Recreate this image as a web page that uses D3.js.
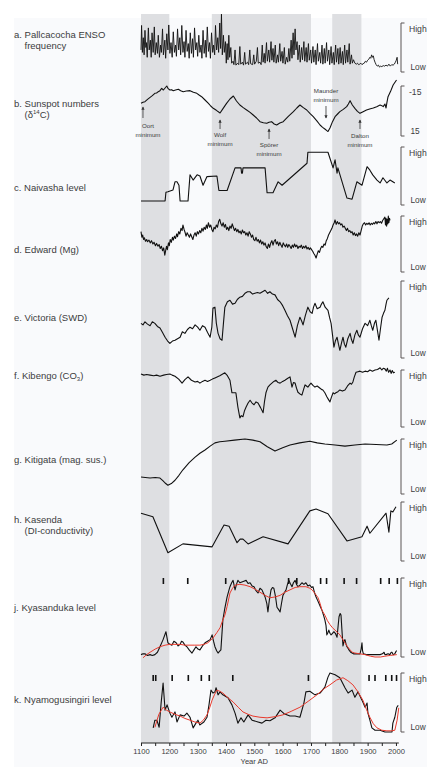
<!DOCTYPE html>
<html>
<head>
<meta charset="utf-8">
<script src="https://cdn.jsdelivr.net/npm/d3@7"></script>
<style>
  body { margin: 0; background: #fff; }
  svg { display: block; }
  text { font-family: "Liberation Sans", Arial, Helvetica, sans-serif; }
</style>
</head>
<body>
<svg id="chart" width="427" height="767"></svg>
<script>
// ---------- data (year AD, relative value 0 = Low, 100 = High) ----------
const axisTicks = [1100, 1200, 1300, 1400, 1500, 1600, 1700, 1800, 1900, 2000];
const solarMinimaBands = [[1100, 1200], [1350, 1700], [1775, 1878]];

const enso = [
  [1100,45],[1102,95],[1105,40],[1108,70],[1111,35],[1114,85],[1117,50],[1119,60],[1122,30],[1126,90],
  [1129,45],[1133,65],[1136,30],[1139,80],[1143,40],[1147,92],[1150,35],[1154,60],[1158,38],[1161,75],
  [1165,30],[1169,55],[1172,40],[1176,88],[1179,35],[1184,65],[1187,28],[1191,78],[1195,45],[1198,96],
  [1202,38],[1206,60],[1210,30],[1214,82],[1218,40],[1222,55],[1225,32],[1229,88],[1233,45],[1237,70],
  [1240,35],[1244,95],[1248,40],[1252,62],[1255,30],[1259,85],[1263,42],[1267,58],[1270,28],[1274,80],
  [1278,38],[1282,68],[1285,30],[1289,90],[1293,45],[1297,60],[1300,32],[1304,75],[1308,40],[1312,55],
  [1315,28],[1319,85],[1323,38],[1327,65],[1330,30],[1334,92],[1338,42],[1342,60],[1345,28],[1349,80],
  [1353,40],[1356,55],[1360,35],[1363,95],[1367,45],[1371,70],[1374,40],[1378,100],[1381,48],[1384,118],
  [1387,35],[1391,75],[1394,40],[1398,62],[1401,18],[1404,58],[1407,25],[1410,75],[1413,30],[1417,50],
  [1420,18],[1425,22],[1428,15],[1432,45],[1435,14],[1441,18],[1445,15],[1449,52],[1452,16],[1458,20],
  [1462,14],[1466,40],[1469,16],[1476,20],[1480,15],[1484,45],[1487,17],[1494,15],[1498,35],[1501,16],
  [1507,22],[1511,50],[1514,18],[1520,20],[1524,15],[1528,55],[1531,20],[1535,38],[1538,18],[1543,60],
  [1546,22],[1551,45],[1554,20],[1559,62],[1562,24],[1566,48],[1569,20],[1574,55],[1577,18],[1582,35],
  [1585,20],[1590,58],[1593,22],[1598,42],[1601,18],[1606,50],[1609,16],[1614,30],[1618,20],[1622,48],
  [1625,22],[1630,65],[1633,28],[1637,80],[1640,35],[1644,88],[1647,45],[1651,62],[1654,25],[1659,55],
  [1662,20],[1667,50],[1670,25],[1675,62],[1678,22],[1683,50],[1686,20],[1691,58],[1694,24],[1699,45],
  [1702,18],[1707,52],[1710,20],[1715,45],[1718,15],[1723,58],[1726,22],[1731,40],[1734,18],[1739,55],
  [1742,16],[1747,48],[1750,18],[1755,60],[1758,22],[1763,45],[1766,15],[1771,52],[1774,18],[1779,40],
  [1782,15],[1787,55],[1790,20],[1795,48],[1798,16],[1803,50],[1806,18],[1811,42],[1814,15],[1819,55],
  [1822,18],[1827,45],[1830,20],[1835,58],[1838,16],[1843,35],[1846,18],[1850,25],[1855,18],[1860,16],
  [1864,18],[1868,15],[1872,16],[1876,18],[1880,15],[1884,17],[1888,18],[1892,22],[1896,20],[1900,24],
  [1904,26],[1908,30],[1911,28],[1914,35],[1917,30],[1920,33],[1923,25],[1926,20],[1930,15],[1934,12],
  [1938,14],[1942,10],[1946,12],[1950,11],[1955,13],[1960,12],[1965,14],[1970,12],[1975,16],[1980,12],
  [1985,15],[1990,14],[1994,16],[1998,20],[2001,24],[2004,30],[2006,16]
];

// δ14C (per mil), plotted inverted: -15 at top
const delta14C = [
  [1100,-4.6],[1107,-5.2],[1114,-5.6],[1123,-7.0],[1132,-8.2],[1140,-9.2],[1149,-10.6],[1155,-10.8],
  [1161,-11.6],[1167,-12.2],[1173,-13.6],[1179,-12.6],[1185,-13.8],[1191,-15.0],[1196,-13.4],[1202,-12.6],
  [1208,-12.8],[1214,-12.2],[1222,-12.6],[1232,-13.0],[1240,-12.2],[1249,-11.6],[1260,-12.0],[1273,-12.2],
  [1285,-11.2],[1297,-10.6],[1305,-9.6],[1314,-8.6],[1326,-6.6],[1338,-4.6],[1346,-3.0],[1355,-1.6],
  [1366,-0.4],[1379,1.2],[1390,-1.6],[1402,-4.6],[1414,-7.2],[1426,-9.0],[1437,-6.0],[1449,-3.6],
  [1461,-2.0],[1473,-0.6],[1485,0.8],[1496,2.4],[1508,4.2],[1520,6.4],[1532,7.0],[1544,7.4],[1552,6.8],
  [1561,6.4],[1570,7.8],[1579,8.4],[1590,7.2],[1602,6.4],[1620,3.2],[1638,0.4],[1650,-1.8],[1661,-3.6],
  [1673,-2.0],[1685,-0.6],[1697,1.6],[1708,3.4],[1720,5.8],[1732,8.4],[1741,9.8],[1749,10.8],[1756,11.8],
  [1760,12.3],[1767,10.2],[1776,6.4],[1785,3.4],[1794,1.8],[1802,0.4],[1814,-1.0],[1826,-2.6],[1832,-4.2],
  [1838,-6.2],[1846,-3.6],[1855,-1.6],[1864,0.2],[1873,1.4],[1884,0.4],[1896,-0.6],[1910,-1.4],[1920,-1.8],
  [1932,-2.6],[1944,-3.6],[1950,-3.2],[1955,-2.6],[1961,-4.2],[1965,-1.8],[1968,-5.0],[1972,-8.6],
  [1981,-11.8],[1990,-15.6],[2002,-18.6]
];
const solarMinima = [
  { name: "Oort", year: 1107 },
  { name: "Wolf", year: 1379 },
  { name: "Spörer", year: 1552 },
  { name: "Maunder", year: 1753 },
  { name: "Dalton", year: 1873 }
];

const naivasha = [
  [1100,7],[1185,7],[1188,22],[1195,23],[1213,26],[1220,40],[1227,40],[1234,34],[1238,7],[1266,7],
  [1273,52],[1284,43],[1298,52],[1308,50],[1319,34],[1333,49],[1368,50],[1375,25],[1404,25],[1432,64],
  [1453,64],[1455,55],[1458,55],[1460,64],[1538,64],[1545,21],[1566,21],[1584,40],[1598,34],[1686,72],
  [1689,91],[1760,91],[1778,64],[1785,78],[1792,55],[1795,64],[1827,12],[1845,10],[1862,40],[1880,34],
  [1898,66],[1908,60],[1918,52],[1933,43],[1944,38],[1954,47],[1968,38],[1979,43],[1996,38]
];

const edward = [
  [1100,72],[1103,62],[1106,66],[1109,58],[1112,61],[1116,55],[1120,58],[1123,54],[1128,57],[1133,52],
  [1137,56],[1142,50],[1146,53],[1151,47],[1155,51],[1160,46],[1164,49],[1168,42],[1172,46],[1176,38],
  [1180,43],[1184,30],[1187,38],[1190,46],[1193,40],[1197,52],[1200,47],[1203,58],[1207,53],[1211,62],
  [1214,57],[1218,64],[1222,60],[1226,68],[1229,63],[1233,72],[1237,68],[1241,78],[1245,74],[1248,84],
  [1252,76],[1256,70],[1259,64],[1263,70],[1267,66],[1271,62],[1275,68],[1279,63],[1283,58],[1287,66],
  [1291,70],[1295,64],[1299,72],[1303,68],[1307,74],[1311,70],[1315,78],[1319,73],[1323,80],[1327,76],
  [1331,84],[1334,78],[1338,88],[1342,80],[1346,84],[1350,76],[1354,72],[1358,80],[1362,77],[1366,84],
  [1370,80],[1374,90],[1378,94],[1382,86],[1386,82],[1390,88],[1394,80],[1398,85],[1402,76],[1406,80],
  [1410,74],[1414,82],[1418,78],[1422,86],[1426,80],[1430,74],[1434,78],[1438,72],[1442,76],[1446,70],
  [1450,73],[1454,68],[1458,75],[1462,70],[1466,72],[1470,66],[1474,70],[1478,64],[1482,72],[1486,68],
  [1490,62],[1494,66],[1498,58],[1502,56],[1506,62],[1510,55],[1514,58],[1518,52],[1522,57],[1526,50],
  [1530,54],[1534,48],[1538,52],[1542,45],[1546,42],[1550,50],[1554,44],[1558,52],[1562,56],[1566,48],
  [1570,55],[1574,58],[1578,50],[1582,54],[1586,47],[1590,53],[1594,48],[1598,44],[1602,52],[1606,48],
  [1610,45],[1614,50],[1618,44],[1622,49],[1626,46],[1630,42],[1634,48],[1638,44],[1642,50],[1646,45],
  [1650,48],[1654,42],[1658,46],[1662,44],[1666,48],[1670,42],[1674,46],[1678,43],[1682,47],[1686,41],
  [1690,44],[1694,40],[1698,43],[1702,40],[1706,37],[1710,33],[1714,30],[1718,25],[1722,32],[1726,38],
  [1730,35],[1734,42],[1738,46],[1742,44],[1746,50],[1750,48],[1754,56],[1758,60],[1762,66],[1766,70],
  [1770,74],[1774,78],[1778,84],[1782,88],[1785,93],[1789,85],[1793,90],[1797,86],[1801,88],[1805,84],
  [1809,86],[1813,80],[1817,82],[1821,78],[1825,74],[1829,78],[1833,72],[1837,74],[1841,70],[1845,72],
  [1849,66],[1853,70],[1857,65],[1861,68],[1865,64],[1869,70],[1873,66],[1877,74],[1881,82],[1885,86],
  [1889,88],[1893,84],[1897,87],[1901,85],[1905,88],[1909,84],[1913,87],[1917,85],[1921,88],[1925,86],
  [1929,90],[1933,86],[1937,90],[1941,88],[1945,90],[1949,87],[1953,92],[1957,95],[1961,98],[1963,84],
  [1965,96],[1967,82],[1969,94],[1971,86],[1973,100],[1975,88],[1977,96],[1979,92]
];

const victoria = [
  [1100,45],[1107,43],[1114,47],[1123,44],[1132,42],[1140,47],[1149,45],[1158,41],[1167,39],[1176,33],
  [1185,27],[1194,22],[1202,19],[1211,22],[1220,23],[1229,25],[1238,27],[1246,34],[1255,32],[1264,37],
  [1273,40],[1282,38],[1291,43],[1300,40],[1308,36],[1317,42],[1326,40],[1335,33],[1344,27],[1350,40],
  [1354,65],[1361,66],[1366,45],[1372,32],[1379,25],[1386,23],[1391,45],[1396,66],[1405,73],[1414,75],
  [1423,70],[1432,71],[1440,76],[1449,79],[1458,80],[1467,84],[1476,86],[1485,86],[1494,83],[1502,84],
  [1511,85],[1520,84],[1529,86],[1538,88],[1547,84],[1555,86],[1564,83],[1573,82],[1582,76],[1591,73],
  [1600,68],[1608,62],[1617,55],[1626,49],[1635,38],[1644,27],[1652,42],[1661,53],[1667,48],[1672,43],
  [1680,55],[1689,66],[1697,60],[1704,58],[1709,66],[1714,71],[1722,64],[1732,66],[1737,70],[1742,73],
  [1750,66],[1760,62],[1766,52],[1771,45],[1776,30],[1781,14],[1786,22],[1792,27],[1797,18],[1802,10],
  [1808,20],[1813,27],[1818,18],[1823,14],[1830,25],[1838,32],[1843,24],[1848,19],[1855,30],[1862,36],
  [1867,30],[1873,27],[1882,38],[1891,45],[1900,42],[1908,49],[1913,42],[1918,36],[1924,45],[1929,49],
  [1935,35],[1940,23],[1946,40],[1951,53],[1956,58],[1961,62],[1965,70],[1968,75],[1975,78]
];

const kibengo = [
  [1100,93],[1110,91],[1120,92],[1132,91],[1145,90],[1155,91],[1167,89],[1180,91],[1190,92],[1202,93],
  [1210,91],[1220,89],[1233,84],[1245,77],[1255,83],[1266,88],[1278,82],[1291,79],[1300,80],[1308,77],
  [1317,80],[1326,82],[1335,80],[1344,82],[1352,84],[1361,86],[1378,90],[1396,95],[1405,90],[1414,82],
  [1421,60],[1435,60],[1442,35],[1449,16],[1454,20],[1460,18],[1465,28],[1471,35],[1478,42],[1485,47],
  [1492,42],[1499,39],[1506,44],[1513,42],[1522,34],[1531,25],[1536,45],[1541,60],[1548,70],[1555,74],
  [1562,77],[1569,80],[1576,82],[1584,78],[1591,77],[1600,80],[1608,82],[1617,85],[1626,88],[1633,70],
  [1638,78],[1644,77],[1649,68],[1654,61],[1661,58],[1668,56],[1674,66],[1679,74],[1684,72],[1689,70],
  [1695,74],[1700,77],[1707,73],[1714,70],[1722,72],[1732,68],[1737,66],[1742,65],[1749,60],[1756,53],
  [1762,48],[1767,44],[1772,52],[1778,60],[1783,58],[1788,60],[1795,62],[1802,65],[1811,63],[1820,65],
  [1829,72],[1838,77],[1843,75],[1848,79],[1853,88],[1859,96],[1866,97],[1873,98],[1882,96],[1891,98],
  [1900,97],[1908,100],[1917,98],[1926,100],[1935,101],[1944,104],[1950,100],[1955,103],[1961,102],
  [1966,98],[1970,103],[1974,96],[1979,100],[1983,94],[1987,99],[1991,95],[1996,96]
];

const kitigata = [
  [1100,31],[1115,30],[1132,29],[1150,30],[1167,29],[1178,24],[1185,20],[1195,16],[1207,19],[1220,25],
  [1234,34],[1248,44],[1270,57],[1291,67],[1308,74],[1326,80],[1344,87],[1361,93],[1378,95],[1396,96],
  [1430,98],[1467,100],[1495,98],[1520,95],[1546,86],[1573,78],[1600,84],[1626,89],[1660,93],[1696,96],
  [1722,93],[1749,91],[1785,89],[1820,87],[1855,89],[1891,91],[1930,90],[1968,89],[1985,91],[2003,98]
];

const kasenda = [
  [1100,81],[1142,75],[1195,14],[1248,29],[1351,24],[1393,61],[1411,59],[1439,31],[1450,37],[1460,37],
  [1478,29],[1531,41],[1619,29],[1696,85],[1718,88],[1760,80],[1827,34],[1880,41],[1898,59],[1908,47],
  [1965,81],[1975,49],[1982,85],[1989,83],[2000,92]
];

const kyasanduka = [
  [1100,3],[1107,4],[1114,4],[1123,2],[1132,3],[1140,2],[1149,3],[1158,6],[1167,13],[1178,22],[1188,32],
  [1195,18],[1202,16],[1209,15],[1216,20],[1224,18],[1231,14],[1238,16],[1243,20],[1248,19],[1255,15],
  [1262,13],[1270,9],[1280,5],[1287,9],[1294,13],[1301,10],[1308,9],[1317,14],[1326,18],[1335,20],
  [1344,22],[1351,28],[1356,20],[1361,13],[1367,8],[1372,5],[1377,7],[1382,9],[1389,47],[1396,62],
  [1404,76],[1410,84],[1414,89],[1420,94],[1425,97],[1432,85],[1437,92],[1442,97],[1449,94],[1456,95],
  [1463,96],[1471,97],[1478,93],[1485,94],[1492,90],[1499,89],[1506,84],[1513,81],[1520,87],[1527,85],
  [1533,80],[1538,76],[1544,68],[1548,57],[1553,72],[1559,85],[1564,88],[1569,87],[1575,76],[1580,63],
  [1586,60],[1591,57],[1596,68],[1601,78],[1607,82],[1612,85],[1617,92],[1622,97],[1627,93],[1633,89],
  [1638,94],[1644,97],[1649,92],[1654,89],[1661,91],[1668,94],[1675,92],[1682,94],[1689,90],[1696,91],
  [1702,88],[1707,89],[1712,82],[1718,76],[1723,72],[1728,68],[1734,63],[1739,59],[1745,52],[1749,47],
  [1753,40],[1756,28],[1760,31],[1763,34],[1767,30],[1771,28],[1776,30],[1781,32],[1786,30],[1792,25],
  [1796,40],[1799,51],[1803,55],[1806,53],[1810,30],[1813,14],[1817,20],[1820,22],[1824,16],[1827,13],
  [1831,11],[1834,9],[1840,6],[1845,5],[1850,4],[1855,4],[1864,4],[1873,4],[1877,10],[1880,18],[1882,8],
  [1885,4],[1895,3],[1908,3],[1925,3],[1944,3],[1952,4],[1958,6],[1961,3],[1965,3],[1972,4],[1979,3],
  [1983,6],[1986,6],[1990,3],[1996,4],[2000,7],[2003,8]
];
const kyasandukaSmooth = [
  [1107,-1],[1120,3],[1132,6],[1150,10],[1167,13],[1185,15],[1202,16],[1220,16],[1238,16],[1255,15],
  [1273,15],[1290,15],[1308,15],[1322,16],[1336,18],[1354,24],[1368,31],[1379,37],[1389,47],[1396,53],
  [1404,64],[1414,81],[1423,87],[1432,91],[1449,92],[1467,91],[1485,89],[1502,86],[1520,82],[1538,78],
  [1555,75],[1573,76],[1591,78],[1608,82],[1626,85],[1644,88],[1661,89],[1682,89],[1696,87],[1704,85],
  [1715,80],[1725,75],[1732,68],[1739,59],[1749,53],[1758,46],[1767,41],[1776,37],[1785,34],[1794,31],
  [1802,28],[1811,23],[1820,18],[1829,13],[1838,9],[1846,6],[1855,5],[1873,4],[1891,3],[1910,1],[1926,0],
  [1945,0],[1961,1],[1980,2],[2003,3]
];
const kyasandukaDates = [1179, 1265, 1399, 1621, 1650, 1734, 1755, 1817, 1861, 1946, 1976, 2005];

const nyamogusingiri = [
  [1143,7],[1149,20],[1156,20],[1164,8],[1171,49],[1178,83],[1185,37],[1192,46],[1202,32],[1209,25],
  [1220,34],[1227,17],[1238,29],[1252,27],[1262,32],[1273,25],[1284,7],[1294,15],[1301,20],[1308,12],
  [1322,17],[1333,25],[1340,46],[1347,71],[1354,66],[1361,68],[1365,75],[1372,63],[1379,68],[1389,63],
  [1407,58],[1421,46],[1432,32],[1442,15],[1453,24],[1463,17],[1478,29],[1492,20],[1513,17],[1527,15],
  [1541,20],[1555,19],[1573,24],[1591,37],[1605,31],[1626,27],[1644,27],[1661,25],[1675,49],[1682,68],
  [1696,69],[1714,63],[1732,66],[1749,76],[1760,93],[1767,100],[1785,97],[1802,92],[1820,75],[1831,66],
  [1845,71],[1855,59],[1866,68],[1880,54],[1891,42],[1898,49],[1901,32],[1908,20],[1915,7],[1926,3],
  [1944,3],[1961,0],[1986,0],[1989,15],[1996,25],[2003,42],[2008,45]
];
const nyamogusingiriSmooth = [
  [1149,8],[1163,30],[1178,42],[1190,37],[1202,34],[1220,30],[1238,27],[1255,23],[1273,20],[1290,17],
  [1308,15],[1320,20],[1333,29],[1343,42],[1351,54],[1360,64],[1368,71],[1378,69],[1389,66],[1407,58],
  [1425,51],[1443,42],[1460,34],[1478,30],[1495,27],[1520,25],[1545,24],[1573,26],[1601,29],[1630,35],
  [1661,42],[1690,52],[1721,63],[1745,73],[1767,80],[1790,88],[1813,92],[1830,87],[1848,80],[1866,68],
  [1883,54],[1896,38],[1908,25],[1920,14],[1933,7],[1950,3],[1968,2],[1985,2],[1996,3],[2004,20],[2010,41]
];
const nyamogusingiriDates = [1143, 1152, 1210, 1267, 1313, 1341, 1424, 1691, 1905, 1926, 1964, 1985, 2002];

// ---------- layout ----------
const W = 427, H = 767;
const plotTop = 14, axisY = 743;
const x = d3.scaleLinear().domain([1100, 2010]).range([141, 398.8]);
const bracketX = 401;

const panels = [
  { label: ["a. Pallcacocha ENSO", "frequency"], labelY: 37.5, top: 23, bottom: 72,
    ends: ["High", "Low"], series: [{ data: enso, width: 0.9 }] },
  { label: ["b. Sunspot numbers", "(δ¹⁴C)"], labelY: 106.5, top: 86, bottom: 136,
    ends: ["-15", "15"], domain: [15, -15], series: [{ data: delta14C }] },
  { label: ["c. Naivasha level"], labelY: 191, top: 147, bottom: 205,
    ends: ["High", "Low"], series: [{ data: naivasha }] },
  { label: ["d. Edward (Mg)"], labelY: 252.5, top: 216, bottom: 272,
    ends: ["High", "Low"], series: [{ data: edward }] },
  { label: ["e. Victoria (SWD)"], labelY: 321, top: 281, bottom: 358,
    ends: ["High", "Low"], series: [{ data: victoria }] },
  { label: ["f. Kibengo (CO3)"], labelY: 378.5, top: 370, bottom: 427,
    ends: ["High", "Low"], series: [{ data: kibengo }] },
  { label: ["g. Kitigata (mag. sus.)"], labelY: 462.5, top: 439, bottom: 494,
    ends: ["High", "Low"], series: [{ data: kitigata }] },
  { label: ["h. Kasenda", "(DI-conductivity)"], labelY: 523, top: 502, bottom: 561,
    ends: ["High", "Low"], series: [{ data: kasenda }] },
  { label: ["j. Kyasanduka level"], labelY: 611, top: 578, bottom: 657,
    ends: ["High", "Low"], dates: kyasandukaDates, dateY: 578,
    series: [{ data: kyasanduka }, { data: kyasandukaSmooth, red: true }] },
  { label: ["k. Nyamogusingiri level"], labelY: 703, top: 673, bottom: 732,
    ends: ["High", "Low"], dates: nyamogusingiriDates, dateY: 675,
    series: [{ data: nyamogusingiri }, { data: nyamogusingiriSmooth, red: true }] }
];

const svg = d3.select("#chart");
svg.append("rect").attr("width", W).attr("height", H).attr("fill", "#ffffff");
svg.append("rect").attr("x", 14).attr("y", 18).attr("width", W - 14).attr("height", H - 18)
  .attr("fill", "#f9fafc");

// shaded solar-minimum intervals
svg.append("g").selectAll("rect").data(solarMinimaBands).join("rect")
  .attr("x", d => x(d[0])).attr("width", d => x(d[1]) - x(d[0]))
  .attr("y", plotTop).attr("height", axisY - plotTop)
  .attr("fill", "#dedfe2");

const textColor = "#3c3c3c";

panels.forEach(p => {
  const y = d3.scaleLinear().domain(p.domain || [0, 100]).range([p.bottom, p.top]);
  const line = d3.line().x(d => x(d[0])).y(d => y(d[1]));

  // row label
  const t = svg.append("text").attr("x", 14).attr("y", p.labelY)
    .attr("font-size", 9.5).attr("fill", textColor);
  p.label.forEach((s, i) => {
    const ts = t.append("tspan").attr("x", i === 0 ? 14 : 24.5).attr("dy", i === 0 ? 0 : 11.2);
    if (s.includes("CO3")) {
      ts.text("f. Kibengo (CO");
      t.append("tspan").attr("font-size", 6).attr("dy", 2).text("3");
      t.append("tspan").attr("dy", -2).text(")");
    } else if (s.includes("δ¹⁴C")) {
      ts.text("(δ");
      t.append("tspan").attr("font-size", 6).attr("dy", -3.5).text("14");
      t.append("tspan").attr("dy", 3.5).text("C)");
    } else {
      ts.text(s);
    }
  });

  // scale bracket and end labels
  svg.append("path")
    .attr("d", `M${bracketX + 3.5},${p.top}H${bracketX}V${p.bottom}H${bracketX + 3.5}`)
    .attr("fill", "none").attr("stroke", "#5a5555").attr("stroke-width", 1);
  svg.append("text").attr("x", 409).attr("y", p.top + 8.5).attr("font-size", 8.6)
    .attr("fill", textColor).text(p.ends[0]);
  svg.append("text").attr("x", 410.5).attr("y", p.bottom - 2.5).attr("font-size", 8.3)
    .attr("fill", textColor).text(p.ends[1]);

  // dating points
  if (p.dates) {
    svg.append("g").selectAll("rect").data(p.dates).join("rect")
      .attr("x", d => x(d) - 0.8).attr("width", 1.6)
      .attr("y", p.dateY).attr("height", 6).attr("fill", "#111");
  }

  p.series.forEach(s => {
    svg.append("path").datum(s.data).attr("d", line)
      .attr("fill", "none")
      .attr("stroke", s.red ? "#e8392c" : "#111")
      .attr("stroke-width", s.width || (s.red ? 1 : 1.1))
      .attr("stroke-linejoin", "round");
  });

  // solar minimum annotations on the δ14C record
  if (p.domain) {
    svg.append("defs").append("marker").attr("id", "arrowhead")
      .attr("viewBox", "0 0 6 6").attr("refX", 5).attr("refY", 3)
      .attr("markerWidth", 4).attr("markerHeight", 4).attr("orient", "auto")
      .append("path").attr("d", "M0,0L6,3L0,6Z").attr("fill", "#333");
    const notes = {
      Oort:    { tail: 118, head: 107, textY: 128, dx: 5 },
      Wolf:    { tail: 129, head: 120, textY: 137, dx: 0 },
      "Spörer":{ tail: 139, head: 129, textY: 147, dx: 0 },
      Maunder: { tail: 106, head: 118, textY: 93,  dx: 0 },
      Dalton:  { tail: 129, head: 120, textY: 138, dx: 0 }
    };
    solarMinima.forEach(m => {
      const n = notes[m.name];
      const cx = x(m.year);
      svg.append("line").attr("x1", cx).attr("x2", cx).attr("y1", n.tail).attr("y2", n.head)
        .attr("stroke", "#333").attr("stroke-width", 0.8).attr("marker-end", "url(#arrowhead)");
      const tt = svg.append("text").attr("x", cx + n.dx).attr("y", n.textY)
        .attr("font-size", 6.2).attr("fill", textColor).attr("text-anchor", "middle");
      tt.append("tspan").attr("x", cx + n.dx).text(m.name);
      tt.append("tspan").attr("x", cx + n.dx).attr("dy", 8.5).text("minimum");
    });
  }
});

// time axis
const axis = d3.axisBottom(x)
  .tickValues(d3.range(1100, 2001, 50))
  .tickSize(3)
  .tickFormat(d => axisTicks.includes(d) ? d : "");
const ag = svg.append("g").attr("transform", `translate(0,${axisY})`).call(axis);
ag.select(".domain").attr("d", `M${x(1100)},0H${x(2010)}`).attr("stroke", "#222");
ag.selectAll(".tick line").attr("stroke", "#222");
ag.selectAll(".tick text").attr("font-size", 7.6).attr("fill", textColor).attr("dy", "0.65em")
  .attr("font-family", "Liberation Sans, Arial, sans-serif");
svg.append("text").attr("x", x(1500)).attr("y", 764).attr("text-anchor", "middle")
  .attr("font-size", 7.6).attr("fill", textColor).text("Year AD");
</script>
</body>
</html>
